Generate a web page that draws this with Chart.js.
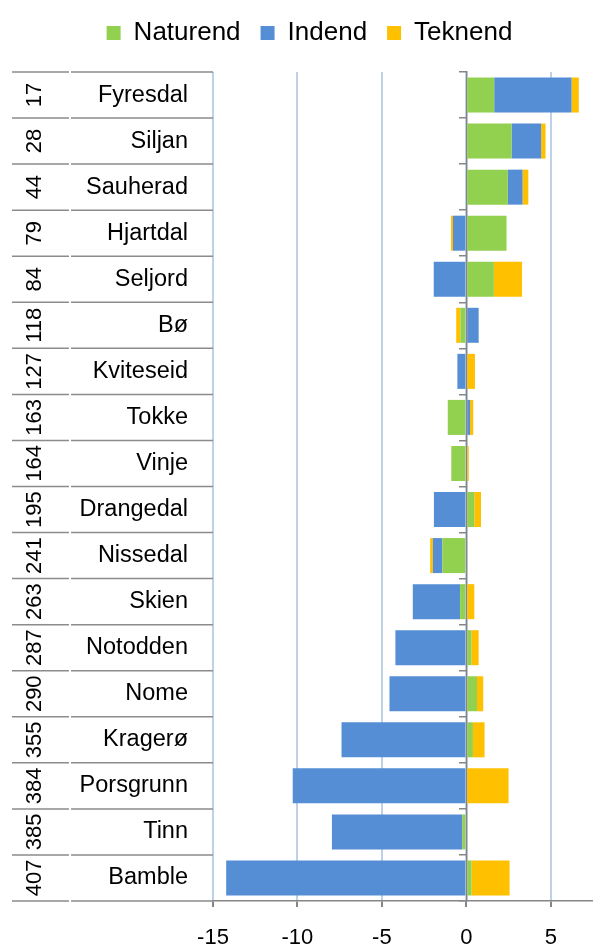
<!DOCTYPE html>
<html>
<head>
<meta charset="utf-8">
<script src="https://cdn.jsdelivr.net/npm/chart.js@4"></script>
<style>
  html, body { margin: 0; padding: 0; background: #fff; }
  #wrap { width: 593px; height: 946px; position: relative; }
</style>
</head>
<body>
<div id="wrap"><canvas id="chart"></canvas></div>
<script>
  // Kommuner med rangering, og de tre komponentene
  const kommuner = ['Fyresdal', 'Siljan', 'Sauherad', 'Hjartdal', 'Seljord', 'Bø', 'Kviteseid', 'Tokke', 'Vinje',
    'Drangedal', 'Nissedal', 'Skien', 'Notodden', 'Nome', 'Kragerø', 'Porsgrunn', 'Tinn', 'Bamble'];
  const rangering = [17, 28, 44, 79, 84, 118, 127, 163, 164, 195, 241, 263, 287, 290, 355, 384, 385, 407];
  const naturend = [1.65, 2.68, 2.46, 2.38, 1.63, -0.35, 0, -1.1, -0.89, 0.47, -1.42, -0.37, 0.3, 0.63, 0.39, 0, -0.24, 0.31];
  const indend = [4.58, 1.75, 0.87, -0.79, -1.93, 0.73, -0.53, 0.22, 0, -1.92, -0.56, -2.8, -4.2, -4.55, -7.39, -10.28, -7.72, -14.22];
  const teknend = [0.43, 0.26, 0.34, -0.12, 1.67, -0.25, 0.51, 0.19, 0.14, 0.4, -0.16, 0.47, 0.43, 0.37, 0.69, 2.5, 0, 2.25];
  const xTicks = [-15, -10, -5, 0, 5];

  const font = "'Liberation Sans', Arial, sans-serif";
  const grå = '#868686';

  // Legenden skal ta like mye plass som raden over plottet
  const legendHoyde = {
    id: 'legendHoyde',
    beforeInit(chart) {
      const fit = chart.legend.fit;
      chart.legend.fit = function () {
        fit.call(this);
        this.height = 72;
      };
    }
  };

  // Tegner rangering (rotert) og kommunenavn til venstre, med skillelinjer
  const kategoritekst = {
    id: 'kategoritekst',
    afterDraw(chart) {
      const { ctx, chartArea, scales: { y } } = chart;
      const steg = (chartArea.bottom - chartArea.top) / kommuner.length;
      ctx.save();
      ctx.strokeStyle = '#8c8c8c';
      ctx.lineWidth = 1.5;
      for (let i = 0; i <= kommuner.length; i++) {
        const yy = chartArea.top + i * steg;
        ctx.beginPath();
        ctx.moveTo(12, yy); ctx.lineTo(69, yy);
        ctx.moveTo(71, yy); ctx.lineTo(chartArea.left, yy);
        ctx.stroke();
      }
      ctx.fillStyle = '#000';
      ctx.textBaseline = 'middle';
      kommuner.forEach((navn, i) => {
        const yc = y.getPixelForValue(i);
        ctx.font = '23.5px ' + font;
        ctx.textAlign = 'right';
        ctx.fillText(navn, 188, yc);
        ctx.save();
        ctx.translate(35, yc);
        ctx.rotate(-Math.PI / 2);
        ctx.font = '22px ' + font;
        ctx.textAlign = 'center';
        ctx.fillText(String(rangering[i]), 0, 0);
        ctx.restore();
      });
      ctx.restore();
    }
  };

  new Chart(document.getElementById('chart'), {
    type: 'bar',
    data: {
      labels: kommuner,
      datasets: [
        { label: 'Naturend', data: naturend, backgroundColor: '#92d050' },
        { label: 'Indend', data: indend, backgroundColor: '#558ed5' },
        { label: 'Teknend', data: teknend, backgroundColor: '#ffc000' }
      ]
    },
    options: {
      indexAxis: 'y',
      responsive: true,
      maintainAspectRatio: false,
      animation: false,
      datasets: { bar: { categoryPercentage: 1, barPercentage: 0.76, borderWidth: 0 } },
      layout: { padding: { left: 26, right: 0, top: 0, bottom: 0 } },
      scales: {
        x: {
          type: 'linear',
          stacked: true,
          min: -15,
          max: 7.5,
          afterBuildTicks: s => { s.ticks = xTicks.map(v => ({ value: v })); },
          afterFit: s => { s.height = 45; },
          grid: { color: '#bfd1e9', lineWidth: 2, tickColor: grå, tickLength: 6 },
          border: { color: grå, width: 1.5, z: 1 },
          ticks: { font: { family: font, size: 22 }, color: '#000', padding: 18 }
        },
        y: {
          stacked: true,
          grid: { display: false },
          border: { display: false },
          ticks: { display: false },
          afterFit: s => { s.width = 187; }
        },
        // nullinjen med tikkmerker mellom kommunene
        y0: {
          type: 'category',
          position: { x: 0 },
          offset: true,
          z: 1,
          grid: { offset: true, drawOnChartArea: false, tickLength: 7, color: grå, lineWidth: 1.5 },
          border: { color: grå, width: 1.5 },
          ticks: { display: false }
        }
      },
      plugins: {
        legend: {
          position: 'top',
          labels: {
            font: { family: font, size: 26 },
            color: '#000',
            boxWidth: 14,
            boxHeight: 14,
            padding: 20
          }
        },
        tooltip: { enabled: false }
      }
    },
    plugins: [legendHoyde, kategoritekst]
  });
</script>
</body>
</html>
